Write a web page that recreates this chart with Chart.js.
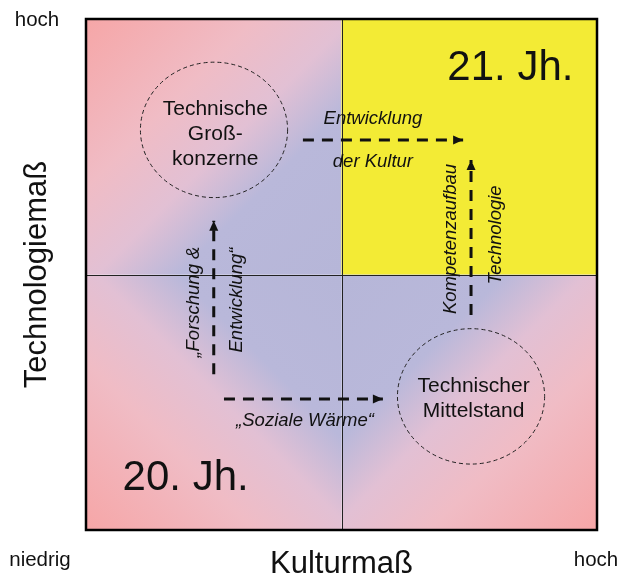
<!DOCTYPE html>
<html>
<head>
<meta charset="utf-8">
<script src="https://cdn.jsdelivr.net/npm/chart.js"></script>
<style>
  html, body { margin: 0; padding: 0; background: #fff; }
  #chart { display: block; }
</style>
</head>
<body>
<canvas id="chart" width="619" height="580"></canvas>
<script>
// Achsen: 0 = niedrig, 2 = hoch
const xRange = [0, 2];
const yRange = [0, 2];
const axisTitles = ["Kulturmaß", "Technologiemaß"];
const cornerLabels = ["hoch", "niedrig", "hoch"];

// Pfeile (Datenkoordinaten, Start -> Spitze)
const arrowForschung = [{ x: 0.5, y: 0.61 }, { x: 0.5, y: 1.21 }];
const arrowSozial = [{ x: 0.54, y: 0.513 }, { x: 1.162, y: 0.513 }];
const arrowKultur = [{ x: 0.849, y: 1.526 }, { x: 1.476, y: 1.526 }];
const arrowTechnik = [{ x: 1.507, y: 0.841 }, { x: 1.507, y: 1.448 }];

// Cluster (gestrichelte Kreise)
const clusterNames = [["Technische", "Groß-", "konzerne"], ["Technischer", "Mittelstand"]];
const clusterX = [0.501, 1.507];
const clusterY = [1.566, 0.523];
const labelX = [0.506, 1.517];
const labelY = [1.549, 0.513];

// Epochen
const eraNames = ["21. Jh.", "20. Jh."];
const eraX = [1.661, 0.39];
const eraY = [1.808, 0.2016];

// Pfeilbeschriftungen
const noteTexts = ["Entwicklung", "der Kultur", "„Soziale Wärme“", "„Forschung &", "Entwicklung“", "Kompetenzaufbau", "Technologie"];
const noteX = [1.123, 1.123, 0.857, 0.422, 0.59, 1.429, 1.606];
const noteY = [1.61, 1.44, 0.427, 0.892, 0.9, 1.139, 1.155];
const noteRot = [0, 0, 0, -90, -90, -90, -90];

const FONT = "'Liberation Sans', Arial, Helvetica, sans-serif";
const INK = "#111";

function text(ctx, str, x, y, size, italic, rot) {
    ctx.save();
    ctx.translate(x, y);
    if (rot) ctx.rotate(rot * Math.PI / 180);
    ctx.font = (italic ? "italic " : "") + size + "px " + FONT;
    ctx.fillStyle = INK;
    ctx.textAlign = "center";
    ctx.textBaseline = "middle";
    ctx.fillText(str, 0, 0);
    ctx.restore();
}

const quadrantPlugin = {
    id: "quadrants",
    beforeDatasetsDraw(chart) {
        const { ctx, chartArea: a, scales: { x, y } } = chart;
        const cx = x.getPixelForValue(1), cy = y.getPixelForValue(1);
        // Ecken aussen -> Mitte
        const quads = [
            [a.left, a.top], [a.left, a.bottom], [a.right, a.bottom]
        ];
        ctx.save();
        quads.forEach(([ox, oy]) => {
            const g = ctx.createLinearGradient(ox, oy, cx, cy);
            g.addColorStop(0, "#f6a6a7");
            g.addColorStop(0.33, "#f0bcc5");
            g.addColorStop(0.52, "#e2c0d4");
            g.addColorStop(0.68, "#b9b8da");
            g.addColorStop(1, "#b6b6d8");
            ctx.fillStyle = g;
            ctx.fillRect(Math.min(ox, cx), Math.min(oy, cy), Math.abs(cx - ox), Math.abs(cy - oy));
        });
        ctx.fillStyle = "#f3eb35";
        ctx.fillRect(cx, a.top, a.right - cx, cy - a.top);
        // Mittellinien
        ctx.strokeStyle = "#222";
        ctx.lineWidth = 1;
        ctx.beginPath();
        ctx.moveTo(Math.round(cx) + 0.5, a.top);
        ctx.lineTo(Math.round(cx) + 0.5, a.bottom);
        ctx.moveTo(a.left, Math.round(cy) + 0.5);
        ctx.lineTo(a.right, Math.round(cy) + 0.5);
        ctx.stroke();
        ctx.restore();
    },
    afterDatasetsDraw(chart) {
        const { ctx, chartArea: a, scales: { x, y } } = chart;
        ctx.save();
        // Pfeilspitzen
        chart.data.datasets.forEach(ds => {
            const p = ds.data;
            const x0 = x.getPixelForValue(p[p.length - 2].x), y0 = y.getPixelForValue(p[p.length - 2].y);
            const x1 = x.getPixelForValue(p[p.length - 1].x), y1 = y.getPixelForValue(p[p.length - 1].y);
            const ang = Math.atan2(y1 - y0, x1 - x0);
            ctx.save();
            ctx.translate(x1, y1);
            ctx.rotate(ang);
            ctx.fillStyle = INK;
            ctx.beginPath();
            ctx.moveTo(0, 0);
            ctx.lineTo(-10, -4.5);
            ctx.lineTo(-10, 4.5);
            ctx.closePath();
            ctx.fill();
            ctx.restore();
        });
        // Kreise
        ctx.strokeStyle = "#222";
        ctx.lineWidth = 1;
        ctx.setLineDash([4, 3]);
        clusterX.forEach((cxv, i) => {
            const px = x.getPixelForValue(cxv), py = y.getPixelForValue(clusterY[i]);
            const rx = x.getPixelForValue(cxv + 0.288) - px;
            const ry = py - y.getPixelForValue(clusterY[i] + 0.265);
            ctx.beginPath();
            ctx.ellipse(px, py, rx, ry, 0, 0, Math.PI * 2);
            ctx.stroke();
        });
        ctx.setLineDash([]);
        clusterNames.forEach((lines, i) => {
            const px = x.getPixelForValue(labelX[i]), py = y.getPixelForValue(labelY[i]);
            const lh = 25;
            lines.forEach((s, j) => text(ctx, s, px, py + (j - (lines.length - 1) / 2) * lh, 21, false, 0));
        });
        eraNames.forEach((s, i) => text(ctx, s, x.getPixelForValue(eraX[i]), y.getPixelForValue(eraY[i]), 42, false, 0));
        noteTexts.forEach((s, i) => text(ctx, s, x.getPixelForValue(noteX[i]), y.getPixelForValue(noteY[i]), 18.5, true, noteRot[i]));
        // Rahmen
        ctx.strokeStyle = "#000";
        ctx.lineWidth = 2.5;
        ctx.strokeRect(a.left, a.top, a.right - a.left, a.bottom - a.top);
        // Eckbeschriftungen
        text(ctx, cornerLabels[0], 37, 20, 20.5, false, 0);
        text(ctx, cornerLabels[1], 40, 560, 20.5, false, 0);
        text(ctx, cornerLabels[2], 596, 560, 20.5, false, 0);
        ctx.restore();
    }
};

function arrowSet(data) {
    return {
        data,
        showLine: true,
        borderColor: INK,
        borderWidth: 3,
        borderDash: [11, 8],
        pointRadius: 0,
        fill: false
    };
}

new Chart(document.getElementById("chart"), {
    type: "scatter",
    data: {
        datasets: [arrowSet(arrowForschung), arrowSet(arrowSozial), arrowSet(arrowKultur), arrowSet(arrowTechnik)]
    },
    options: {
        responsive: false,
        animation: false,
        events: [],
        layout: { padding: { left: 0, top: 19, right: 22, bottom: 0 } },
        plugins: { legend: { display: false }, tooltip: { enabled: false } },
        scales: {
            x: {
                min: xRange[0], max: xRange[1],
                ticks: { display: false },
                grid: { display: false, drawTicks: false },
                border: { display: false },
                title: { display: true, text: axisTitles[0], color: INK, padding: { top: 0, bottom: 0 },
                         font: { family: FONT, size: 31, lineHeight: 1 } },
                afterFit: s => { s.height = 50; }
            },
            y: {
                min: yRange[0], max: yRange[1],
                ticks: { display: false },
                grid: { display: false, drawTicks: false },
                border: { display: false },
                title: { display: true, text: axisTitles[1], color: INK, padding: { top: 22, bottom: 0 },
                         font: { family: FONT, size: 31, lineHeight: 1 } },
                afterFit: s => { s.width = 86; }
            }
        }
    },
    plugins: [quadrantPlugin]
});
</script>
</body>
</html>
